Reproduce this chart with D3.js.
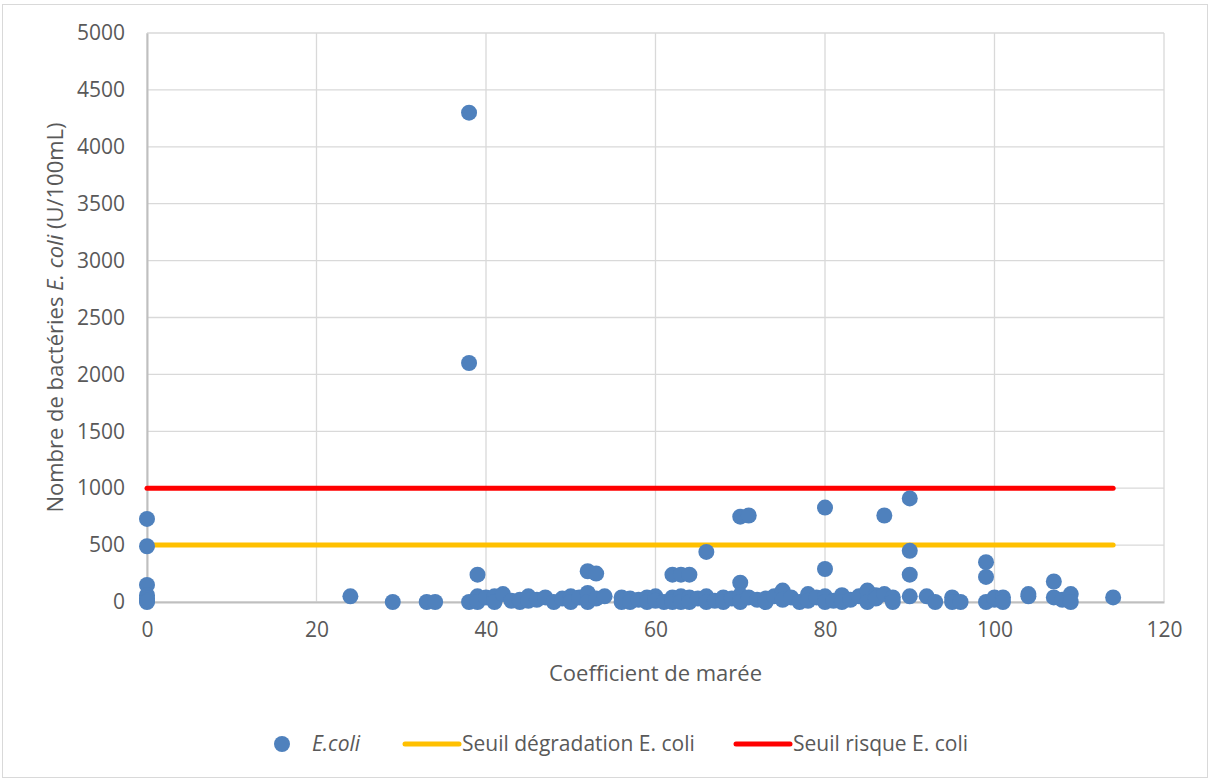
<!DOCTYPE html>
<html>
<head>
<meta charset="utf-8">
<script src="https://cdn.jsdelivr.net/npm/d3@7"></script>
<style>
  body { margin: 0; background: #fff; }
  text { font-family: "Open Sans", Lato, sans-serif; fill: #595959; }
</style>
</head>
<body>
<script>
// tide coefficient / E. coli count pairs
var coefX = [0,0,0,0,0,0,0, 24, 29, 33, 34, 38,38,38, 39,39,39, 40, 41,41, 42, 43, 44,44, 45,45, 46, 47, 48, 49,
  50,50, 51, 52,52,52, 53,53, 54, 56,56, 57,57, 58, 59,59, 60,60, 61, 62,62,62, 63,63,63, 64,64,64, 65,
  66,66,66, 67, 68,68, 69, 70,70,70,70, 71,71, 72, 73,73, 74, 75,75, 76, 77, 78,78, 79,
  80,80,80,80, 81, 82,82, 83, 84, 85,85, 86,86, 87,87, 88,88, 90,90,90,90, 92, 93, 95,95, 96,
  99,99,99, 100,100, 101,101, 104,104, 107,107, 108, 109,109, 114];
var ecoli = [730,490,150,60,30,10,0, 50, 0, 0, 0, 4300,2100,0, 240,50,0, 40, 50,0, 70, 10, 0,20, 50,10, 20, 40, 0, 30,
  50,0, 40, 270,80,0, 250,30, 50, 40,0, 30,0, 20, 40,0, 50,10, 0, 240,40,0, 240,50,0, 240,40,0, 30,
  440,50,0, 10, 40,0, 30, 750,170,60,0, 760,40, 20, 30,0, 50, 100,20, 40, 0, 70,10, 40,
  830,290,50,0, 10, 60,0, 20, 50, 100,0, 60,30, 760,70, 40,0, 910,450,240,50, 50, 0, 40,0, 0,
  350,220,0, 20,40, 40,0, 70,50, 180,40, 20, 70,0, 40];

// threshold lines
var thresholdNames = ["Seuil dégradation E. coli", "Seuil risque E. coli"];
var thresholdValues = [500, 1000];
var thresholdColors = ["#ffc000", "#ff0000"];
var lineRange = [0, 114];

var xTicks = [0, 20, 40, 60, 80, 100, 120];
var yTicks = [0, 500, 1000, 1500, 2000, 2500, 3000, 3500, 4000, 4500, 5000];

var W = 1210, H = 780;
var margin = {top: 33, right: 46, bottom: 178, left: 147};
var width = W - margin.left - margin.right;
var height = H - margin.top - margin.bottom;

var svg = d3.select("body").append("svg")
    .attr("width", W)
    .attr("height", H);

// outer frame
svg.append("rect")
    .attr("x", 2.5).attr("y", 4.5)
    .attr("width", W - 5).attr("height", H - 7)
    .attr("fill", "#fff")
    .attr("stroke", "#d9d9d9");

var g = svg.append("g")
    .attr("transform", "translate(" + margin.left + "," + margin.top + ")");

var x = d3.scaleLinear().domain([0, 120]).range([0, width]);
var y = d3.scaleLinear().domain([0, 5000]).range([height, 0]);

// grid
g.selectAll(".gx").data(xTicks).enter().append("line")
    .attr("x1", function(d) { return x(d); })
    .attr("x2", function(d) { return x(d); })
    .attr("y1", 0).attr("y2", height)
    .attr("stroke", "#d9d9d9").attr("stroke-width", 1.3);

g.selectAll(".gy").data(yTicks).enter().append("line")
    .attr("x1", 0).attr("x2", width)
    .attr("y1", function(d) { return y(d); })
    .attr("y2", function(d) { return y(d); })
    .attr("stroke", "#d9d9d9").attr("stroke-width", 1.3);

// axes
var xAxis = d3.axisBottom(x).tickValues(xTicks).tickSize(0).tickPadding(20);
var yAxis = d3.axisLeft(y).tickValues(yTicks).tickFormat(d3.format("d")).tickSize(0).tickPadding(22);

var xg = g.append("g")
    .attr("transform", "translate(0," + height + ")")
    .call(xAxis);
xg.select(".domain").attr("stroke", "#bfbfbf").attr("stroke-width", 2);
xg.selectAll("text").style("font-size", "21px").attr("fill", "#595959");

var yg = g.append("g").call(yAxis);
yg.select(".domain").attr("stroke", "#bfbfbf").attr("stroke-width", 2);
yg.selectAll("text").style("font-size", "21px").attr("fill", "#595959");

// threshold lines
var line = d3.line()
    .x(function(d) { return x(d[0]); })
    .y(function(d) { return y(d[1]); });

thresholdValues.forEach(function(v, i) {
    g.append("path")
        .datum(lineRange.map(function(c) { return [c, v]; }))
        .attr("d", line)
        .attr("fill", "none")
        .attr("stroke", thresholdColors[i])
        .attr("stroke-width", 5)
        .attr("stroke-linecap", "round");
});

// dots
g.selectAll(".dot").data(coefX).enter().append("circle")
    .attr("cx", function(d) { return x(d); })
    .attr("cy", function(d, i) { return y(ecoli[i]); })
    .attr("r", 8)
    .attr("fill", "#4f81bd");

// axis titles
svg.append("text")
    .attr("x", margin.left + width / 2)
    .attr("y", 681)
    .attr("text-anchor", "middle")
    .style("font-size", "22px")
    .text("Coefficient de marée");

var yt = svg.append("text")
    .attr("transform", "translate(63," + (margin.top + height / 2) + ") rotate(-90)")
    .attr("text-anchor", "middle")
    .style("font-size", "22px");
yt.append("tspan").text("Nombre de bactéries ");
yt.append("tspan").style("font-style", "italic").text("E. coli");
yt.append("tspan").text(" (U/100mL)");

// legend
var leg = svg.append("g").attr("transform", "translate(0,744)");
leg.append("circle").attr("cx", 282).attr("cy", 0).attr("r", 8).attr("fill", "#4f81bd");
leg.append("text").attr("x", 312).attr("y", 7).style("font-size", "21px")
    .style("font-style", "italic").text("E.coli");

var legX = [405, 736];
thresholdNames.forEach(function(n, i) {
    leg.append("line")
        .attr("x1", legX[i]).attr("x2", legX[i] + 54)
        .attr("y1", 0).attr("y2", 0)
        .attr("stroke", thresholdColors[i]).attr("stroke-width", 5)
        .attr("stroke-linecap", "round");
    leg.append("text").attr("x", legX[i] + 57).attr("y", 7)
        .style("font-size", "21px").text(n);
});
</script>
</body>
</html>
